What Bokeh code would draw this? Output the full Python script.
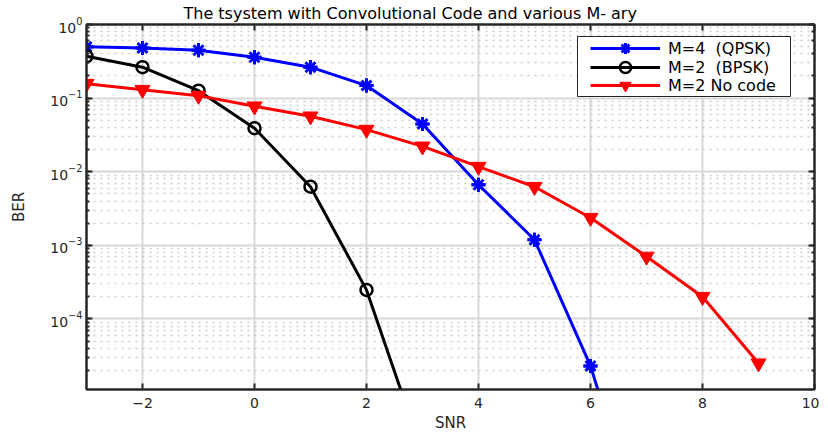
from bokeh.plotting import figure
from bokeh.models import (LogAxis, LinearAxis, FixedTicker, Legend, LegendItem, Title, Range1d,
                          LogTicker, BoxAnnotation)
from bokeh.embed import file_html
from bokeh.resources import INLINE

snr_qpsk = [-3, -2, -1, 0, 1, 2, 3, 4, 5, 6, 7]
ber_qpsk = [0.497, 0.48, 0.447, 0.359, 0.263, 0.148, 0.0446, 0.00665, 0.00119, 2.3e-5, 8e-8]
snr_bpsk = [-3, -2, -1, 0, 1, 2, 3]
ber_bpsk = [0.37, 0.263, 0.126, 0.039, 0.00625, 2.48e-4, 1.5e-6]
snr_nocode = [-3, -2, -1, 0, 1, 2, 3, 4, 5, 6, 7, 8, 9]
ber_nocode = [0.157, 0.13, 0.108, 0.0774, 0.0566, 0.0373, 0.0221, 0.0117, 0.00625, 0.00237, 7.05e-4, 2.0e-4, 2.5e-5]
x_ticks = [-2, 0, 2, 4, 6, 8, 10]
labels = ["M=4  (QPSK)", "M=2  (BPSK)", "M=2 No code"]
title_text = "The tsystem with Convolutional Code and various M- ary"

FONT = "DejaVu Sans"
AX = "#262626"

p = figure(width=819, height=434, y_axis_type="log", output_backend="svg", toolbar_location=None,
           x_range=Range1d(-3, 10), y_range=Range1d(1.1e-5, 1.0),
           min_border_left=86, min_border_right=5, min_border_top=23, min_border_bottom=44)

p.outline_line_color = AX
p.outline_line_width = 2
p.outline_line_alpha = 1

for ax in [p.xaxis[0], p.yaxis[0]]:
    ax.axis_line_color = AX
    ax.axis_line_width = 2
    ax.major_tick_in = 6
    ax.major_tick_out = 0
    ax.major_tick_line_width = 2
    ax.major_tick_line_color = AX
    ax.minor_tick_in = 3
    ax.minor_tick_out = 0
    ax.minor_tick_line_width = 2
    ax.minor_tick_line_color = AX
    ax.major_label_text_font = FONT
    ax.major_label_text_font_size = "14px"
    ax.major_label_text_color = AX
    ax.axis_label_text_font = FONT
    ax.axis_label_text_font_size = "15px"
    ax.axis_label_text_font_style = "normal"
    ax.axis_label_text_color = AX

p.xaxis[0].ticker = FixedTicker(ticks=x_ticks)
p.xaxis[0].axis_label = "SNR"
p.xaxis[0].major_label_standoff = 8
p.xaxis[0].axis_label_standoff = 3
p.yaxis[0].axis_label = "BER"
p.yaxis[0].major_label_standoff = 4
p.yaxis[0].axis_label_standoff = 19

rax = LogAxis(ticker=LogTicker(), axis_line_color=AX, axis_line_width=2,
              major_tick_in=6, major_tick_out=0, major_tick_line_width=2, major_tick_line_color=AX,
              minor_tick_in=3, minor_tick_out=0, minor_tick_line_width=2, minor_tick_line_color=AX,
              major_label_text_font_size="1px", major_label_text_alpha=0, major_label_standoff=0)
p.add_layout(rax, "right")

tax = LinearAxis(ticker=FixedTicker(ticks=x_ticks), axis_line_color=AX, axis_line_width=2,
                 major_tick_in=6, major_tick_out=0, major_tick_line_width=2, major_tick_line_color=AX,
                 minor_tick_in=0, minor_tick_out=0,
                 major_label_text_font_size="1px", major_label_text_alpha=0, major_label_standoff=0)
p.add_layout(tax, "above")

p.add_layout(Title(text=title_text, align="left", text_font=FONT, text_font_size="16px",
                   text_font_style="normal", text_color="#000000", standoff=3, offset=97), "above")

p.xgrid.grid_line_color = "#d9d9d9"
p.xgrid.grid_line_width = 2
p.ygrid.grid_line_color = "#d9d9d9"
p.ygrid.grid_line_width = 2
p.ygrid.minor_grid_line_color = "#cccccc"
p.ygrid.minor_grid_line_dash = "2 5"
p.ygrid.minor_grid_line_width = 1.5

# QPSK
l1 = p.line(snr_qpsk, ber_qpsk, line_color="#0000ff", line_width=3)
m1a = p.scatter(snr_qpsk, ber_qpsk, marker="asterisk", size=14, line_color="#0000ff", line_width=3)
m1b = p.scatter(snr_qpsk, ber_qpsk, marker="cross", size=14, line_color="#0000ff", line_width=3)
# BPSK
l2 = p.line(snr_bpsk, ber_bpsk, line_color="#000000", line_width=3)
m2 = p.scatter(snr_bpsk, ber_bpsk, marker="circle", size=12, line_color="#000000", line_width=2.5,
               fill_color=None)
# No code
l3 = p.line(snr_nocode, ber_nocode, line_color="#ff0000", line_width=3)
m3 = p.scatter(snr_nocode, ber_nocode, marker="inverted_triangle", size=15, line_color="#ff0000",
               fill_color="#ff0000", line_width=1)

# legend frame (canvas pixels)
p.add_layout(BoxAnnotation(left=577, right=790, top=36, bottom=96,
                           left_units="canvas", right_units="canvas",
                           top_units="canvas", bottom_units="canvas",
                           fill_color="white", fill_alpha=1, line_color=AX, line_width=1,
                           line_alpha=1))

entries = [[l1, m1a, m1b], [l2, m2], [l3, m3]]
legend_y = [327, 308, 290]
for lab, rends, ly in zip(labels, entries, legend_y):
    lg = Legend(items=[LegendItem(label=lab, renderers=rends)],
                location=(504, ly), glyph_width=70, glyph_height=28, label_height=28,
                spacing=0, padding=0, label_text_font=FONT, label_text_font_size="16px",
                label_text_color="#000000", border_line_alpha=0, background_fill_alpha=0,
                label_standoff=8, margin=0)
    p.add_layout(lg, "center")

open("out.html", "w").write(file_html(p, INLINE))
